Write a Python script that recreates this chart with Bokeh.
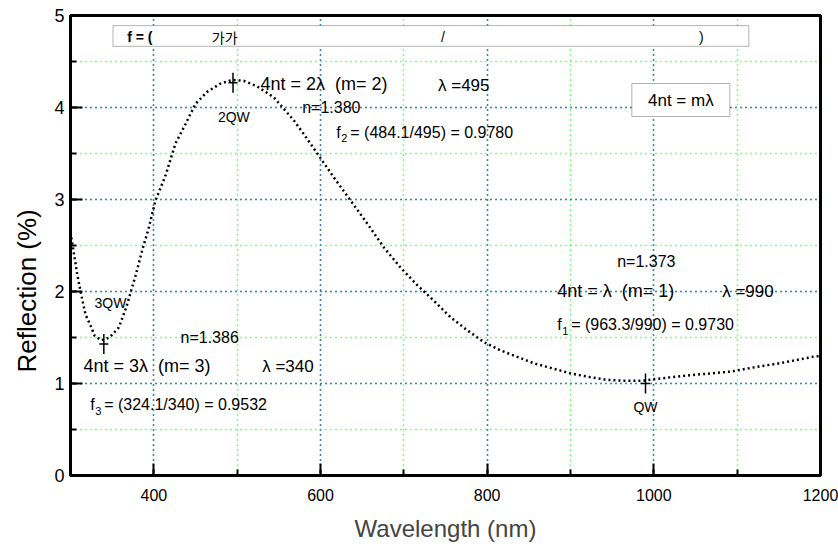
import math

from bokeh.embed import file_html
from bokeh.models import BoxAnnotation, Label, SingleIntervalTicker, Title
from bokeh.plotting import figure
from bokeh.resources import INLINE

# Reflection spectrum of the single-layer coating
wavelength_nm = [300, 304, 308, 313, 318, 324, 329, 337, 347, 358, 367, 378, 387, 393,
                 402, 414, 426, 438, 450, 464, 480, 494, 508, 524, 544, 568, 580, 600,
                 616, 636, 656, 676, 696, 716, 736, 756, 776, 796, 816, 836, 856, 876,
                 900, 923, 943, 963, 987, 1003, 1023, 1043, 1063, 1093, 1123, 1151,
                 1191, 1200]
reflection_pct = [2.64, 2.42, 2.19, 1.96, 1.75, 1.63, 1.52, 1.47, 1.50, 1.61, 1.83, 2.17,
                  2.48, 2.66, 2.99, 3.26, 3.61, 3.82, 4.04, 4.17, 4.26, 4.30, 4.29, 4.23,
                  4.11, 3.86, 3.71, 3.45, 3.24, 2.99, 2.74, 2.48, 2.26, 2.07, 1.90, 1.72,
                  1.58, 1.45, 1.36, 1.29, 1.22, 1.17, 1.11, 1.07, 1.04, 1.03, 1.03, 1.05,
                  1.07, 1.09, 1.105, 1.13, 1.18, 1.22, 1.29, 1.30]

# Quarter-wave extrema marked on the curve
qw_wavelength = [340, 495, 990]
qw_reflection = [1.43, 4.27, 1.00]
qw_names = ["3QW", "2QW", "QW"]

# Order-by-order readings
orders = ["1", "2", "3"]
order_eq = ["4nt = λ \u00a0(m= 1)", "4nt = 2λ \u00a0(m= 2)", "4nt = 3λ \u00a0(m= 3)"]
order_n = ["n=1.373", "n=1.380", "n=1.386"]
order_lambda = ["λ =990", "λ =495", "λ =340"]
order_f = ["= (963.3/990) = 0.9730", "= (484.1/495) = 0.9780", "= (324.1/340) = 0.9532"]

x_label = "Wavelength (nm)"
y_label = "Reflection (%)"

FONT = "Liberation Sans"

p = figure(width=838, height=552, x_range=(300, 1200), y_range=(0, 5),
           output_backend="svg", toolbar_location=None,
           min_border_left=70, min_border_right=18, min_border_top=15,
           min_border_bottom=77)
p.background_fill_color = "white"
p.border_fill_color = "white"
p.outline_line_color = "black"
p.outline_line_width = 3

p.xaxis.ticker = SingleIntervalTicker(interval=200, num_minor_ticks=2)
p.yaxis.ticker = SingleIntervalTicker(interval=1, num_minor_ticks=2)

for ax in (p.xaxis[0], p.yaxis[0]):
    ax.axis_line_width = 3
    ax.axis_line_color = "black"
    ax.major_tick_in = 12
    ax.major_tick_out = 0
    ax.minor_tick_in = 6
    ax.minor_tick_out = 0
    ax.major_tick_line_width = 2
    ax.minor_tick_line_width = 2
    ax.major_label_text_font = FONT
    ax.major_label_text_color = "black"

p.xaxis.major_label_text_font_size = "16px"
p.xaxis.major_label_standoff = 13
p.yaxis.major_label_text_font_size = "18px"
p.yaxis.major_label_standoff = 6

p.xaxis.axis_label = x_label
p.xaxis.axis_label_text_font = FONT
p.xaxis.axis_label_text_font_size = "24px"
p.xaxis.axis_label_text_font_style = "normal"
p.xaxis.axis_label_standoff = 11

# Y axis title, sitting a little below the middle of the frame
p.add_layout(Title(text=y_label, align="left", offset=103, standoff=19,
                   text_font=FONT, text_font_size="26px", text_font_style="normal",
                   text_color="black"), "left")

for g in (p.xgrid[0], p.ygrid[0]):
    g.grid_line_color = "#0000ff"
    g.grid_line_dash = "1 4"
    g.grid_line_width = 1.5
    g.minor_grid_line_color = "#00ff00"
    g.minor_grid_line_dash = "1 4"
    g.minor_grid_line_width = 1.5

# Spectrum, drawn as a dotted trace
p.line(wavelength_nm, reflection_pct, line_color="black", line_width=2.5, line_dash="2 3")

# Quarter-wave markers
p.scatter(qw_wavelength, qw_reflection, marker="dash", angle=math.pi / 2, size=20,
          line_color="black", line_width=1.5)
p.scatter(qw_wavelength, qw_reflection, marker="dash", size=9,
          line_color="black", line_width=1.5)


def add_text(text, x, y, size, align="left", style="normal", font=FONT,
             x_offset=0, y_offset=0, angle=0):
    p.add_layout(Label(x=x, y=y, text=text, text_font=font, text_font_size=f"{size}px",
                       text_font_style=style, text_align=align, text_baseline="middle",
                       text_color="black", x_offset=x_offset, y_offset=y_offset,
                       angle=angle))


# Header bar
p.add_layout(BoxAnnotation(left=351, right=1114, top=4.89, bottom=4.665,
                           fill_color="white", fill_alpha=1, line_color="black",
                           line_width=1))
add_text("f = (", 368, 4.77, 14, style="bold")
add_text("가가", 485, 4.77, 14, align="center", font="Noto Sans CJK KR")
add_text("/", 747, 4.77, 14, align="center")
add_text(")", 1057, 4.77, 14, align="center")

# Condition box
p.add_layout(BoxAnnotation(left=973.6, right=1091.2, top=4.261, bottom=3.902,
                           fill_color="white", fill_alpha=1, line_color="black",
                           line_width=1))
add_text("4nt = mλ", 1032.4, 4.08, 17, align="center")

# Quarter-wave names
qw_name_pos = [(348, 1.88), (496, 3.90), (990, 0.74)]
for name, (x, y) in zip(qw_names, qw_name_pos):
    add_text(name, x, y, 14, align="center")

# Per-order annotations
eq_pos = [(884, 2.005), (528, 4.26), (315.5, 1.185)]
n_pos = [(956, 2.326), (578, 3.995), (432, 1.495)]
lam_pos = [(1082, 2.005), (741, 4.24), (530, 1.185)]
f_pos = [(884, 1.64), (619, 3.73), (323.6, 0.77)]
for i in range(3):
    add_text(order_eq[i], *eq_pos[i], 18)
    add_text(order_n[i], *n_pos[i], 16)
    add_text(order_lambda[i], *lam_pos[i], 17)
    fx, fy = f_pos[i]
    add_text("f", fx, fy, 16)
    add_text(orders[i], fx, fy, 11, x_offset=5, y_offset=-6)
    add_text(order_f[i], fx, fy, 16, x_offset=14)

open("out.html", "w").write(file_html(p, INLINE))
